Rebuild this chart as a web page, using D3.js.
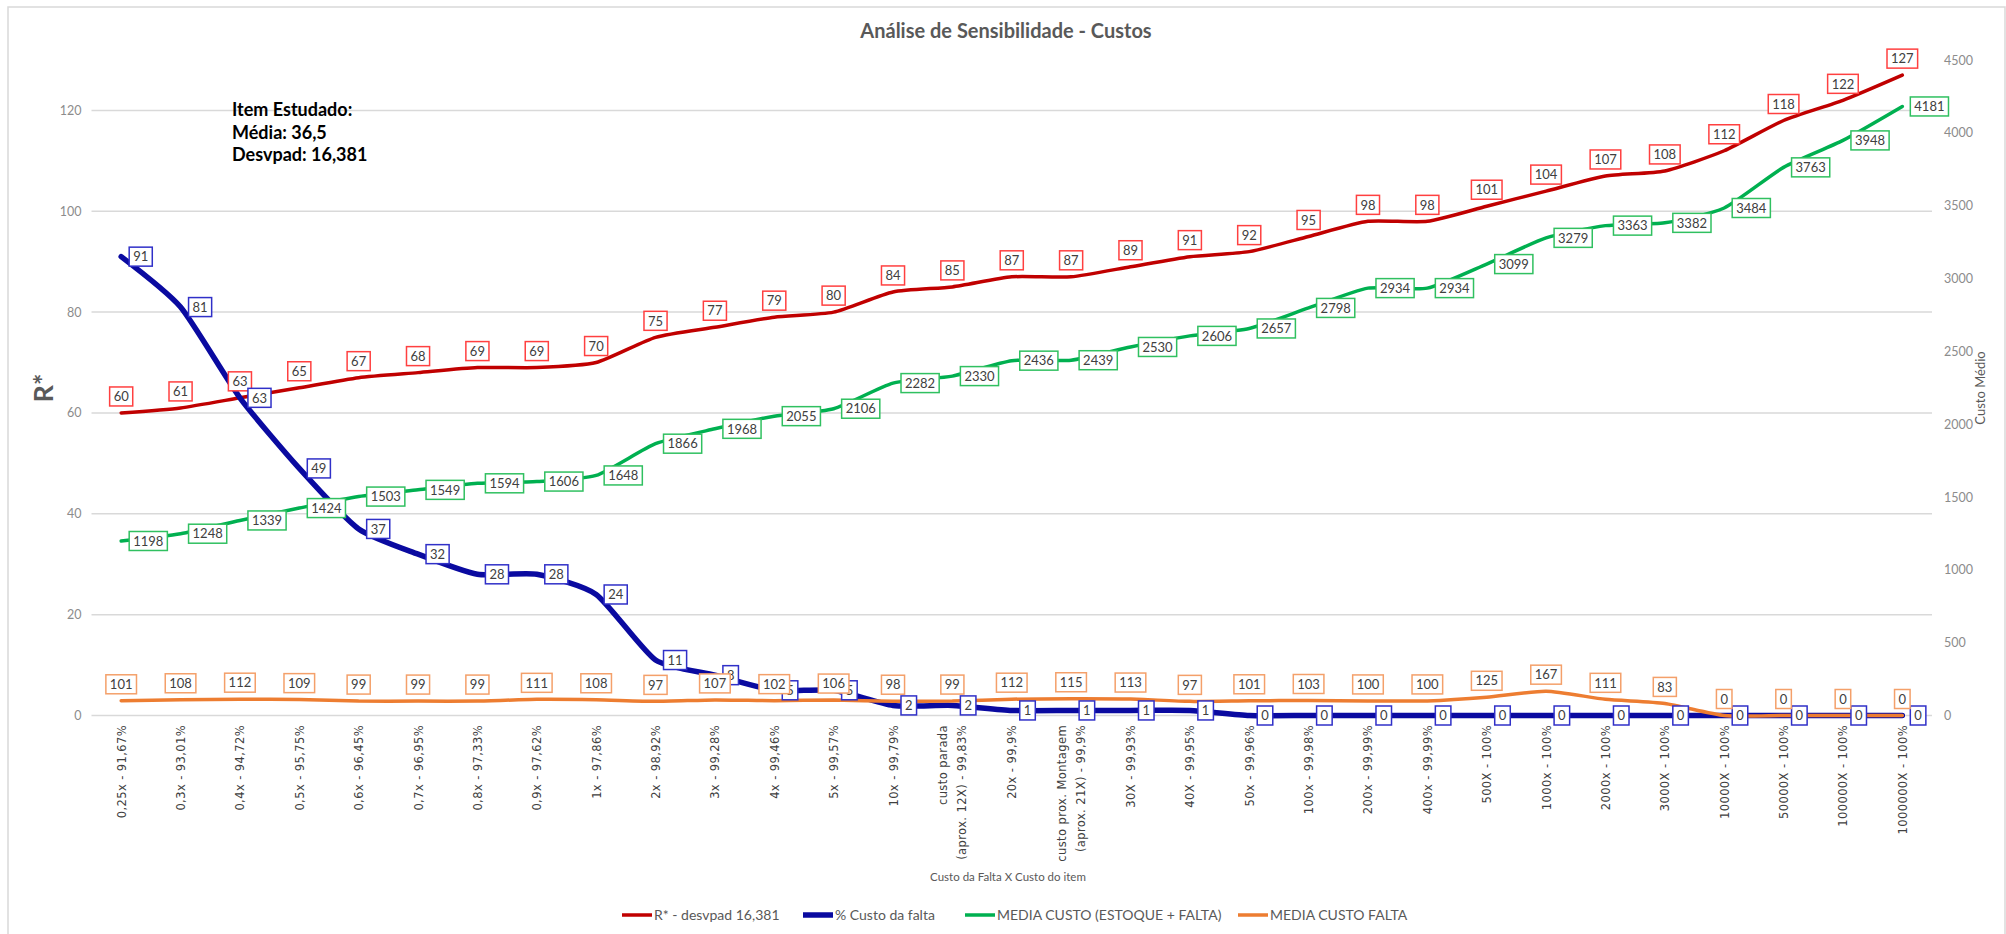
<!DOCTYPE html>
<html>
<head>
<meta charset="utf-8">
<script src="https://cdn.jsdelivr.net/npm/d3@7"></script>
<style>
  html, body { margin: 0; padding: 0; background: #fff; }
  svg { display: block; }
</style>
</head>
<body>
<svg id="chart" width="2006" height="934"></svg>
<script>
// Categories: shortage cost multiple vs. item cost, with resulting service level
const categories = [
  "0,25x - 91,67%", "0,3x - 93,01%", "0,4x - 94,72%", "0,5x - 95,75%",
  "0,6x - 96,45%", "0,7x - 96,95%", "0,8x - 97,33%", "0,9x - 97,62%",
  "1x - 97,86%", "2x - 98,92%", "3x - 99,28%", "4x - 99,46%", "5x - 99,57%",
  "10x - 99,79%", "custo parada\n(aprox. 12X) - 99,83%", "20x - 99,9%",
  "custo prox. Montagem\n(aprox. 21X) - 99,9%", "30X - 99,93%", "40X - 99,95%",
  "50x - 99,96%", "100x - 99,98%", "200x - 99,99%", "400x - 99,99%",
  "500X - 100%", "1000x - 100%", "2000x - 100%", "3000X - 100%",
  "10000X - 100%", "50000X - 100%", "100000X - 100%", "1000000X - 100%"
];

// Left axis series
const rStar = [60, 61, 63, 65, 67, 68, 69, 69, 70, 75, 77, 79, 80, 84, 85, 87, 87,
  89, 91, 92, 95, 98, 98, 101, 104, 107, 108, 112, 118, 122, 127];
const pctCustoFalta = [91, 81, 63, 49, 37, 32, 28, 28, 24, 11, 8, 5, 5, 2, 2, 1, 1,
  1, 1, 0, 0, 0, 0, 0, 0, 0, 0, 0, 0, 0, 0];

// Right axis series
const mediaCusto = [1198, 1248, 1339, 1424, 1503, 1549, 1594, 1606, 1648, 1866, 1968,
  2055, 2106, 2282, 2330, 2436, 2439, 2530, 2606, 2657, 2798, 2934, 2934, 3099, 3279,
  3363, 3382, 3484, 3763, 3948, 4181];
const mediaCustoFalta = [101, 108, 112, 109, 99, 99, 99, 111, 108, 97, 107, 102, 106,
  98, 99, 112, 115, 113, 97, 101, 103, 100, 100, 125, 167, 111, 83, 0, 0, 0, 0];

// Axis ticks
const leftTicks = [0, 20, 40, 60, 80, 100, 120];
const rightTicks = [0, 500, 1000, 1500, 2000, 2500, 3000, 3500, 4000, 4500];

const seriesNames = ["R* - desvpad 16,381", "% Custo da falta",
  "MEDIA CUSTO (ESTOQUE + FALTA)", "MEDIA CUSTO FALTA"];

const chartTitle = "Análise de Sensibilidade - Custos";
const noteLines = ["Item Estudado:", "Média: 36,5", "Desvpad: 16,381"];

// ---- layout ----
const svg = d3.select("#chart");
const plot = { left: 91.5, right: 1932, top: 60, bottom: 715.5 };
const uiFont = "Lato, 'Open Sans', sans-serif";

const x = d3.scaleBand().domain(categories).range([plot.left, plot.right]).padding(0);
const cx = c => x(c) + x.bandwidth() / 2;
const yL = d3.scaleLinear().domain([0, 130]).range([plot.bottom, plot.top]);
const yR = d3.scaleLinear().domain([0, 4500]).range([plot.bottom, plot.top]);

// outer frame
svg.append("path")
  .attr("d", "M8,940 L8,7 L2005,7 L2005,940")
  .attr("fill", "none").attr("stroke", "#d9d9d9").attr("stroke-width", 1.5);

// title
svg.append("text")
  .attr("x", 1006).attr("y", 38)
  .attr("text-anchor", "middle")
  .style("font-family", uiFont).style("font-weight", "bold")
  .style("font-size", "20px").attr("fill", "#595959")
  .text(chartTitle);

// gridlines from the left axis
svg.append("g").selectAll("line").data(leftTicks).join("line")
  .attr("x1", plot.left).attr("x2", plot.right)
  .attr("y1", d => yL(d)).attr("y2", d => yL(d))
  .attr("stroke", "#d9d9d9").attr("stroke-width", 1.5);

// left axis
const gL = svg.append("g").attr("transform", `translate(${plot.left - 10},0)`)
  .call(d3.axisLeft(yL).tickValues(leftTicks).tickSize(0).tickPadding(0).tickFormat(d3.format("d")));
gL.select(".domain").remove();
gL.selectAll("text").style("font-family", uiFont).style("font-size", "12.5px").attr("fill", "#8c8c8c");

// right axis
const gR = svg.append("g").attr("transform", `translate(${plot.right + 12},0)`)
  .call(d3.axisRight(yR).tickValues(rightTicks).tickSize(0).tickPadding(0).tickFormat(d3.format("d")));
gR.select(".domain").remove();
gR.selectAll("text").style("font-family", uiFont).style("font-size", "12.5px").attr("fill", "#8c8c8c");

// axis titles
svg.append("text")
  .attr("transform", "translate(53,388) rotate(-90)")
  .attr("text-anchor", "middle")
  .style("font-family", uiFont).style("font-weight", "bold").style("font-size", "27px")
  .attr("fill", "#595959").text("R*");
svg.append("text")
  .attr("transform", "translate(1985,388) rotate(-90)")
  .attr("text-anchor", "middle")
  .style("font-family", uiFont).style("font-size", "13px")
  .attr("fill", "#595959").text("Custo Médio");
svg.append("text")
  .attr("x", 1008).attr("y", 881)
  .attr("text-anchor", "middle")
  .style("font-family", uiFont).style("font-size", "11.5px")
  .attr("fill", "#595959").text("Custo da Falta X Custo do item");

// category labels (rotated)
const xLab = svg.append("g");
categories.forEach(c => {
  const lines = c.split("\n");
  const n = lines.length;
  const t = xLab.append("text")
    .attr("transform", `translate(${cx(c)},725) rotate(-90)`)
    .attr("text-anchor", "end")
    .style("font-family", "'DejaVu Sans', Verdana, sans-serif").style("font-size", "11.5px")
    .style("letter-spacing", "0.4px")
    .attr("fill", "#404040");
  lines.forEach((ln, i) => {
    t.append("tspan").attr("x", 0)
      .attr("y", (i - (n - 1) / 2) * 19 + 4.5)
      .text(ln);
  });
});

// series definitions
const series = [
  { name: seriesNames[0], values: rStar, y: yL, color: "#c00000", width: 3.5, box: "#ff4040", pos: "above" },
  { name: seriesNames[1], values: pctCustoFalta, y: yL, color: "#0a0aa0", width: 5.5, box: "#3030c8", pos: "right" },
  { name: seriesNames[2], values: mediaCusto, y: yR, color: "#00b050", width: 3.5, box: "#30c060", pos: "right" },
  { name: seriesNames[3], values: mediaCustoFalta, y: yR, color: "#ed7d31", width: 3.5, box: "#f4a06a", pos: "above" }
];

// lines (smoothed)
series.forEach(s => {
  const line = d3.line()
    .x((d, i) => cx(categories[i]))
    .y(d => s.y(d))
    .curve(d3.curveCardinal.tension(0.4));
  svg.append("path")
    .datum(s.values)
    .attr("d", line)
    .attr("fill", "none")
    .attr("stroke", s.color)
    .attr("stroke-width", s.width)
    .attr("stroke-linejoin", "round")
    .attr("stroke-linecap", "round");
});

// data labels (boxed)
series.forEach(s => {
  const g = svg.append("g");
  s.values.forEach((v, i) => {
    const px = cx(categories[i]);
    const py = s.y(v);
    const lg = g.append("g");
    const rect = lg.append("rect");
    const txt = lg.append("text")
      .attr("text-anchor", "middle")
      .attr("dy", "0.36em")
      .style("font-family", uiFont).style("font-size", "13px")
      .attr("fill", "#404040")
      .text(v);
    const w = txt.node().getComputedTextLength() + 8;
    const h = 19;
    let bx, by;
    if (s.pos === "above") { bx = px - w / 2; by = py - 7 - h; }
    else { bx = px + 8; by = py - h / 2; }
    rect.attr("x", bx).attr("y", by).attr("width", w).attr("height", h)
      .attr("fill", "#fff").attr("stroke", s.box).attr("stroke-width", 1.5);
    txt.attr("x", bx + w / 2).attr("y", by + h / 2);
  });
});

// note text
const note = svg.append("text")
  .style("font-family", uiFont).style("font-weight", "bold").style("font-size", "18px")
  .attr("fill", "#000");
noteLines.forEach((ln, i) => {
  note.append("tspan").attr("x", 232).attr("y", 116 + i * 22.5).text(ln);
});

// legend
const legendX = [622, 803, 965, 1238];
const legend = svg.append("g");
series.forEach((s, i) => {
  const it = legend.append("g").attr("transform", `translate(${legendX[i]},915)`);
  it.append("line").attr("x1", 0).attr("x2", 30).attr("y1", 0).attr("y2", 0)
    .attr("stroke", s.color).attr("stroke-width", s.width);
  it.append("text").attr("x", 32).attr("dy", "0.35em")
    .style("font-family", uiFont).style("font-size", "14px")
    .attr("fill", "#595959").text(s.name);
});
</script>
</body>
</html>
